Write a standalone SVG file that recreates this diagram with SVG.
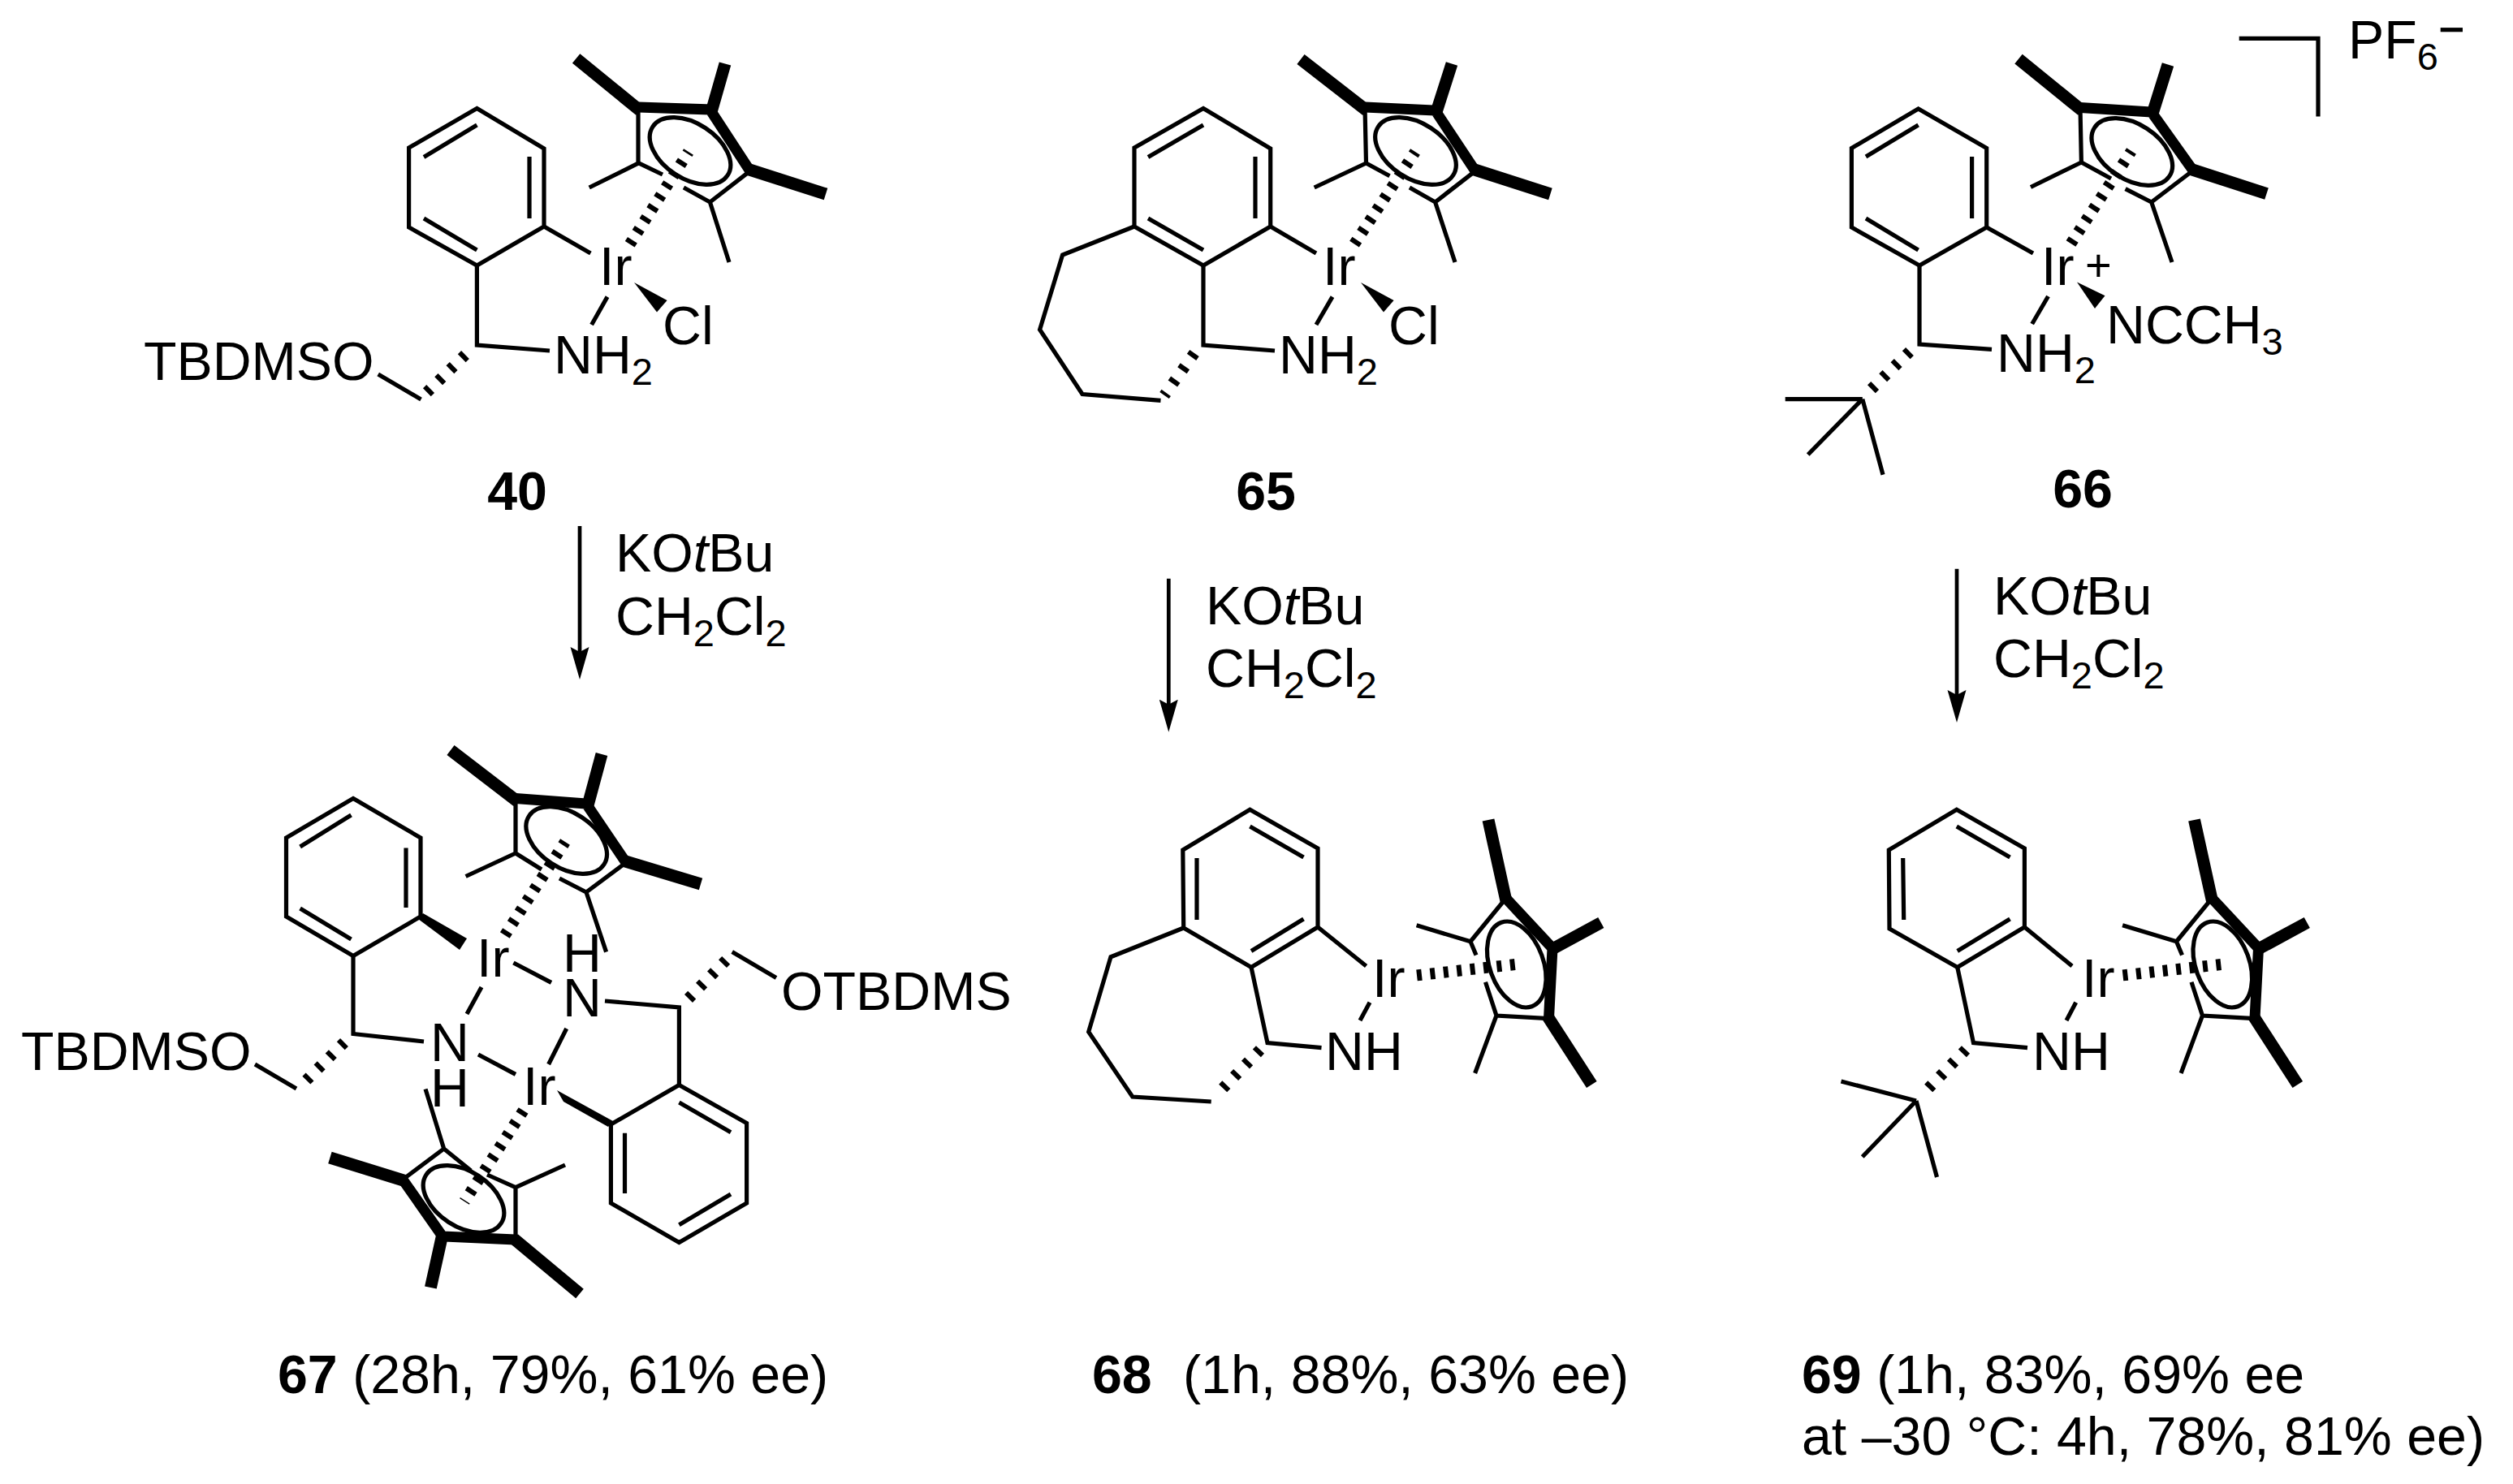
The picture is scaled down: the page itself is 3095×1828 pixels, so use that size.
<svg xmlns="http://www.w3.org/2000/svg" width="3095" height="1828" viewBox="0 0 3095 1828">
<style>
text{font-family:"Liberation Sans",Arial,sans-serif;font-size:66.3px;fill:#000}
.s{font-size:47px}
.n{font-weight:bold}
.i{font-style:italic}
.l,.k,.m,.d,.e,.a{fill:none;stroke:#000}
.l{stroke-width:5.2;stroke-linejoin:miter;stroke-miterlimit:10}
.k{stroke-width:13;stroke-linejoin:miter;stroke-miterlimit:10}
.m{stroke-width:15}
.d{stroke-width:14;stroke-dasharray:6 10.5}
.e{stroke-width:14;stroke-dasharray:6 14}
.a{stroke-width:4.7}
</style>
<defs>
<marker id="ah" markerUnits="userSpaceOnUse" markerWidth="40" markerHeight="24" refX="20" refY="12" orient="auto" viewBox="0 0 40 24">
<path d="M40 12L0 .5L6 12L0 23.5Z" fill="#000"/>
</marker>
</defs>
<g id="compound-40">
<polygon class="l" points="587.4,133.5 670,183 670,279 587.4,327 503.6,280 503.6,182"/>
<path class="l" d="M522 193.5L587.4 154M652 193V269M522 269L587.4 308M670 279L727.4 312M587.4 327V425L677 432M748 365.6L728.6 400M465.7 461L518.5 492"/>
<line class="e" x1="573" y1="437" x2="525" y2="484"/>
<path class="l" d="M786 132V200.7L816 215M842 231L874.4 249L923.8 210.6M787 200.7L725.7 231M874.4 249L898 323"/>
<polyline class="k" points="786,132 874.4,135 923.8,210.6"/>
<path class="m" d="M788 136L709.6 72M876 138L893 78.5M920 208L1017 239"/>
<ellipse class="l" cx="850" cy="186" rx="55" ry="34" transform="rotate(33 850 186)"/>
<line class="d" x1="775.7" y1="300.7" x2="848" y2="187"/>
<polygon points="781,348 821.6,370 809,384.5"/>
<text x="738" y="351">Ir</text>
<text x="816" y="424">Cl</text>
<text x="682" y="460">NH<tspan class="s" dy="13.5">2</tspan></text>
<text x="177" y="468">TBDMSO</text>
<text class="n" x="637" y="628" text-anchor="middle">40</text>
</g>
<g id="compound-65">
<polygon class="l" points="1482,133.5 1564.7,183 1564.7,279 1482,327 1397,279 1397,182"/>
<path class="l" d="M1414 193.5L1482 154M1546 193V269M1414 269L1482 308M1564.7 279L1621 312M1482 327V425L1570 432M1641 365.6L1621 400M1397 279L1308.6 314L1280.6 406L1333 485.5L1429.5 493.4"/>
<line class="e" x1="1471" y1="435" x2="1434" y2="487"/>
<path class="l" d="M1681 132L1682.5 201L1711.5 216.7M1736 231L1767.6 249L1817 210.6M1682.5 201L1618.7 231M1767.6 249L1792 323"/>
<polyline class="k" points="1681,132 1767.6,136 1817,210.6"/>
<path class="m" d="M1683 136L1602 73M1769 138L1788 78.5M1813 208L1909.4 239"/>
<ellipse class="l" cx="1743.5" cy="186" rx="55" ry="34" transform="rotate(33 1743.5 186)"/>
<line class="d" x1="1668" y1="300.6" x2="1743" y2="187"/>
<polygon points="1676,348 1716.6,370 1704,384.5"/>
<text x="1629" y="351">Ir</text>
<text x="1710" y="424">Cl</text>
<text x="1575" y="460">NH<tspan class="s" dy="13.5">2</tspan></text>
<text class="n" x="1559" y="628" text-anchor="middle">65</text>
</g>
<g id="compound-66">
<polygon class="l" points="2362.6,134 2446.7,182.5 2446.7,280 2364,327 2280.4,280 2280.4,182.5"/>
<path class="l" d="M2298 193L2362.6 154M2428.6 193V269M2298 269L2362.6 308M2446.7 280L2504 312M2364 327V424L2453 430.4M2522.5 365L2502.7 399M2293.8 491.6H2198.7M2293.8 491.6L2226.7 560M2293.8 491.6L2319 584.7"/>
<line class="e" x1="2352" y1="433" x2="2300" y2="484"/>
<path class="l" d="M2562 132.6L2563.4 200L2600 220M2617.6 232.6L2649.7 249L2701 210M2563.4 200L2501 230.5M2649.7 249L2675 323"/>
<polyline class="k" points="2562,132.6 2649.7,138 2701,210"/>
<path class="m" d="M2564 136L2486 72.6M2651 140L2670 79.6M2697 208L2791.5 238.7"/>
<ellipse class="l" cx="2625.8" cy="187" rx="55" ry="34" transform="rotate(33 2625.8 187)"/>
<line class="d" x1="2550.5" y1="300" x2="2625" y2="186"/>
<polygon points="2558,347.6 2592.5,364.3 2580,380"/>
<text x="2514" y="351">Ir</text>
<text x="2568" y="346" style="font-size:56px">+</text>
<text x="2594" y="423">NCCH<tspan class="s" dy="13.5">3</tspan></text>
<text x="2459" y="458">NH<tspan class="s" dy="13.5">2</tspan></text>
<text class="n" x="2565" y="625" text-anchor="middle">66</text>
<path class="l" d="M2757.7 47.3H2855V143.6"/>
<text x="2892" y="72">PF<tspan class="s" dy="13.5">6</tspan></text>
<path class="l" d="M3005.7 36.7H3033"/>
</g>
<g id="compound-67">
<polygon class="l" points="435,983.4 518,1032 518,1129 435,1177.4 352.5,1129 352.5,1032"/>
<path class="l" d="M369.6 1043L432.5 1004M500 1044.5V1118M369.6 1119L432.5 1157M435 1177.4V1273.5L522 1283M314 1311L365 1341"/>
<polygon points="515,1132 521,1125 575,1156 566,1170"/>
<line class="e" x1="424" y1="1284" x2="372" y2="1336"/>
<path class="l" d="M635 983.4V1051L667 1071M689 1082L722 1099L771 1062.5M635 1051L573.6 1079.5M722 1099L746.6 1172.6"/>
<polyline class="k" points="635,983.4 722,990 771,1062.5"/>
<path class="m" d="M637 987L555 924M724 992L741 929M767 1060L863 1089"/>
<ellipse class="l" cx="697.7" cy="1035" rx="55" ry="34" transform="rotate(33 697.7 1035)"/>
<line class="d" x1="621.8" y1="1152" x2="696" y2="1037"/>
<text x="587" y="1203">Ir</text>
<text x="693" y="1197">H</text>
<text x="693" y="1252">N</text>
<path class="l" d="M632.4 1186L679 1210.4M593 1216L575 1249M745 1233L836.4 1241V1336.5M697.7 1267L675.6 1311M589 1299L635 1323.4M901.7 1172.6L956 1204.6"/>
<line class="e" x1="848" y1="1230" x2="897" y2="1180"/>
<text x="530" y="1307">N</text>
<text x="530" y="1363">H</text>
<text x="644" y="1361">Ir</text>
<text x="26" y="1318">TBDMSO</text>
<text x="962" y="1244">OTBDMS</text>
<polygon class="l" points="836.4,1336.5 919.6,1383.5 919.6,1482 836.4,1530.5 752.4,1482 752.4,1385"/>
<path class="l" d="M836.4 1358L900 1394.7M769.5 1395.7V1470M836.4 1508.7L900 1471"/>
<polygon points="755,1381 749,1388 694,1357 686,1343"/>
<path class="l" d="M496 1453L546.7 1415L580 1442M600 1447L635 1462.6V1529M546.7 1415L524 1341.4M635 1462.6L696 1435"/>
<polyline class="k" points="496,1453 545,1523 635,1527"/>
<path class="m" d="M500 1455L406.4 1426M545 1520L530.4 1586M633 1526L714 1593.5"/>
<ellipse class="l" cx="571" cy="1477" rx="55" ry="34" transform="rotate(33 571 1477)"/>
<line class="d" x1="644.6" y1="1368" x2="572" y2="1480"/>
<text x="342" y="1716"><tspan class="n">67</tspan> (28h, 79%, 61% ee)</text>
</g>
<g id="compound-68">
<polygon class="l" points="1539.4,997.3 1623,1045 1623,1142 1541,1191.4 1457.7,1143 1456.8,1047"/>
<path class="l" d="M1539.4 1018L1605.5 1056M1474 1057V1133M1541 1171.5L1605.5 1132M1623 1142L1682.6 1190M1687 1234.7L1675 1257M1541 1191.4L1561 1284.7L1627.5 1290.7M1457.7 1143L1368 1178.8L1340.7 1271L1394.8 1351L1491.7 1357"/>
<line class="e" x1="1552" y1="1293" x2="1497" y2="1350"/>
<path class="l" d="M1854.7 1106.5L1811 1159.8L1818 1176.5M1829.5 1209.8L1843 1251L1907.5 1254.7M1811 1159.8L1744.6 1139.8M1843 1251L1816.6 1322"/>
<polyline class="k" points="1854.7,1106.5 1912,1168 1907.5,1254.7"/>
<path class="m" d="M1855 1110L1833 1010M1910 1170L1971.8 1136.5M1906 1252L1960.3 1336"/>
<ellipse class="l" cx="1867.8" cy="1188" rx="33" ry="55" transform="rotate(-20 1867.8 1188)"/>
<line class="d" x1="1745" y1="1201.4" x2="1866" y2="1188"/>
<text x="1690" y="1228">Ir</text>
<text x="1632" y="1318">NH</text>
<text x="1345" y="1716" class="n">68</text>
<text x="1457" y="1716">(1h, 88%, 63% ee)</text>
</g>
<g id="compound-69">
<polygon class="l" points="2409.8,997.3 2493.4,1045 2493.4,1142 2410.7,1191.4 2327,1144 2326.3,1047"/>
<path class="l" d="M2409.8 1018L2475.5 1056M2343.7 1057L2344.7 1133M2410.7 1171.5L2475.5 1132M2493.4 1142L2552 1190M2556.7 1234.7L2545 1257M2410.7 1191.4L2430.5 1284.7L2497 1290.7M2360 1356L2267.5 1332M2360 1356L2293.7 1425M2360 1356L2385.5 1450"/>
<line class="e" x1="2421" y1="1293" x2="2366" y2="1350"/>
<path class="l" d="M2724.2 1106.5L2680.5 1159.8L2687.5 1176.5M2699 1209.8L2712.5 1251L2777 1254.7M2680.5 1159.8L2614.1 1139.8M2712.5 1251L2686.1 1322"/>
<polyline class="k" points="2724.2,1106.5 2781.5,1168 2777,1254.7"/>
<path class="m" d="M2724.5 1110L2702.5 1010M2779.5 1170L2841.3 1136.5M2775.5 1252L2829.8 1336"/>
<ellipse class="l" cx="2737.3" cy="1188" rx="33" ry="55" transform="rotate(-20 2737.3 1188)"/>
<line class="d" x1="2614.5" y1="1201.4" x2="2735.5" y2="1188"/>
<text x="2564" y="1228">Ir</text>
<text x="2503" y="1318">NH</text>
<text x="2219" y="1716"><tspan class="n">69</tspan> (1h, 83%, 69% ee</text>
<text x="2219" y="1792">at –30 °C: 4h, 78%, 81% ee)</text>
</g>
<g id="connectors">
<line class="a" x1="714" y1="648" x2="714" y2="817" marker-end="url(#ah)"/>
<line class="a" x1="1439.3" y1="712.7" x2="1439.3" y2="881.7" marker-end="url(#ah)"/>
<line class="a" x1="2410" y1="700.7" x2="2410" y2="870" marker-end="url(#ah)"/>
</g>
<g id="conditions">
<text x="758" y="704">KO<tspan class="i">t</tspan>Bu</text>
<text x="758" y="782">CH<tspan class="s" dy="13.5">2</tspan><tspan dy="-13.5">Cl</tspan><tspan class="s" dy="13.5">2</tspan></text>
<text x="1485" y="769">KO<tspan class="i">t</tspan>Bu</text>
<text x="1485" y="846">CH<tspan class="s" dy="13.5">2</tspan><tspan dy="-13.5">Cl</tspan><tspan class="s" dy="13.5">2</tspan></text>
<text x="2455" y="757">KO<tspan class="i">t</tspan>Bu</text>
<text x="2455" y="834">CH<tspan class="s" dy="13.5">2</tspan><tspan dy="-13.5">Cl</tspan><tspan class="s" dy="13.5">2</tspan></text>
</g>
</svg>
